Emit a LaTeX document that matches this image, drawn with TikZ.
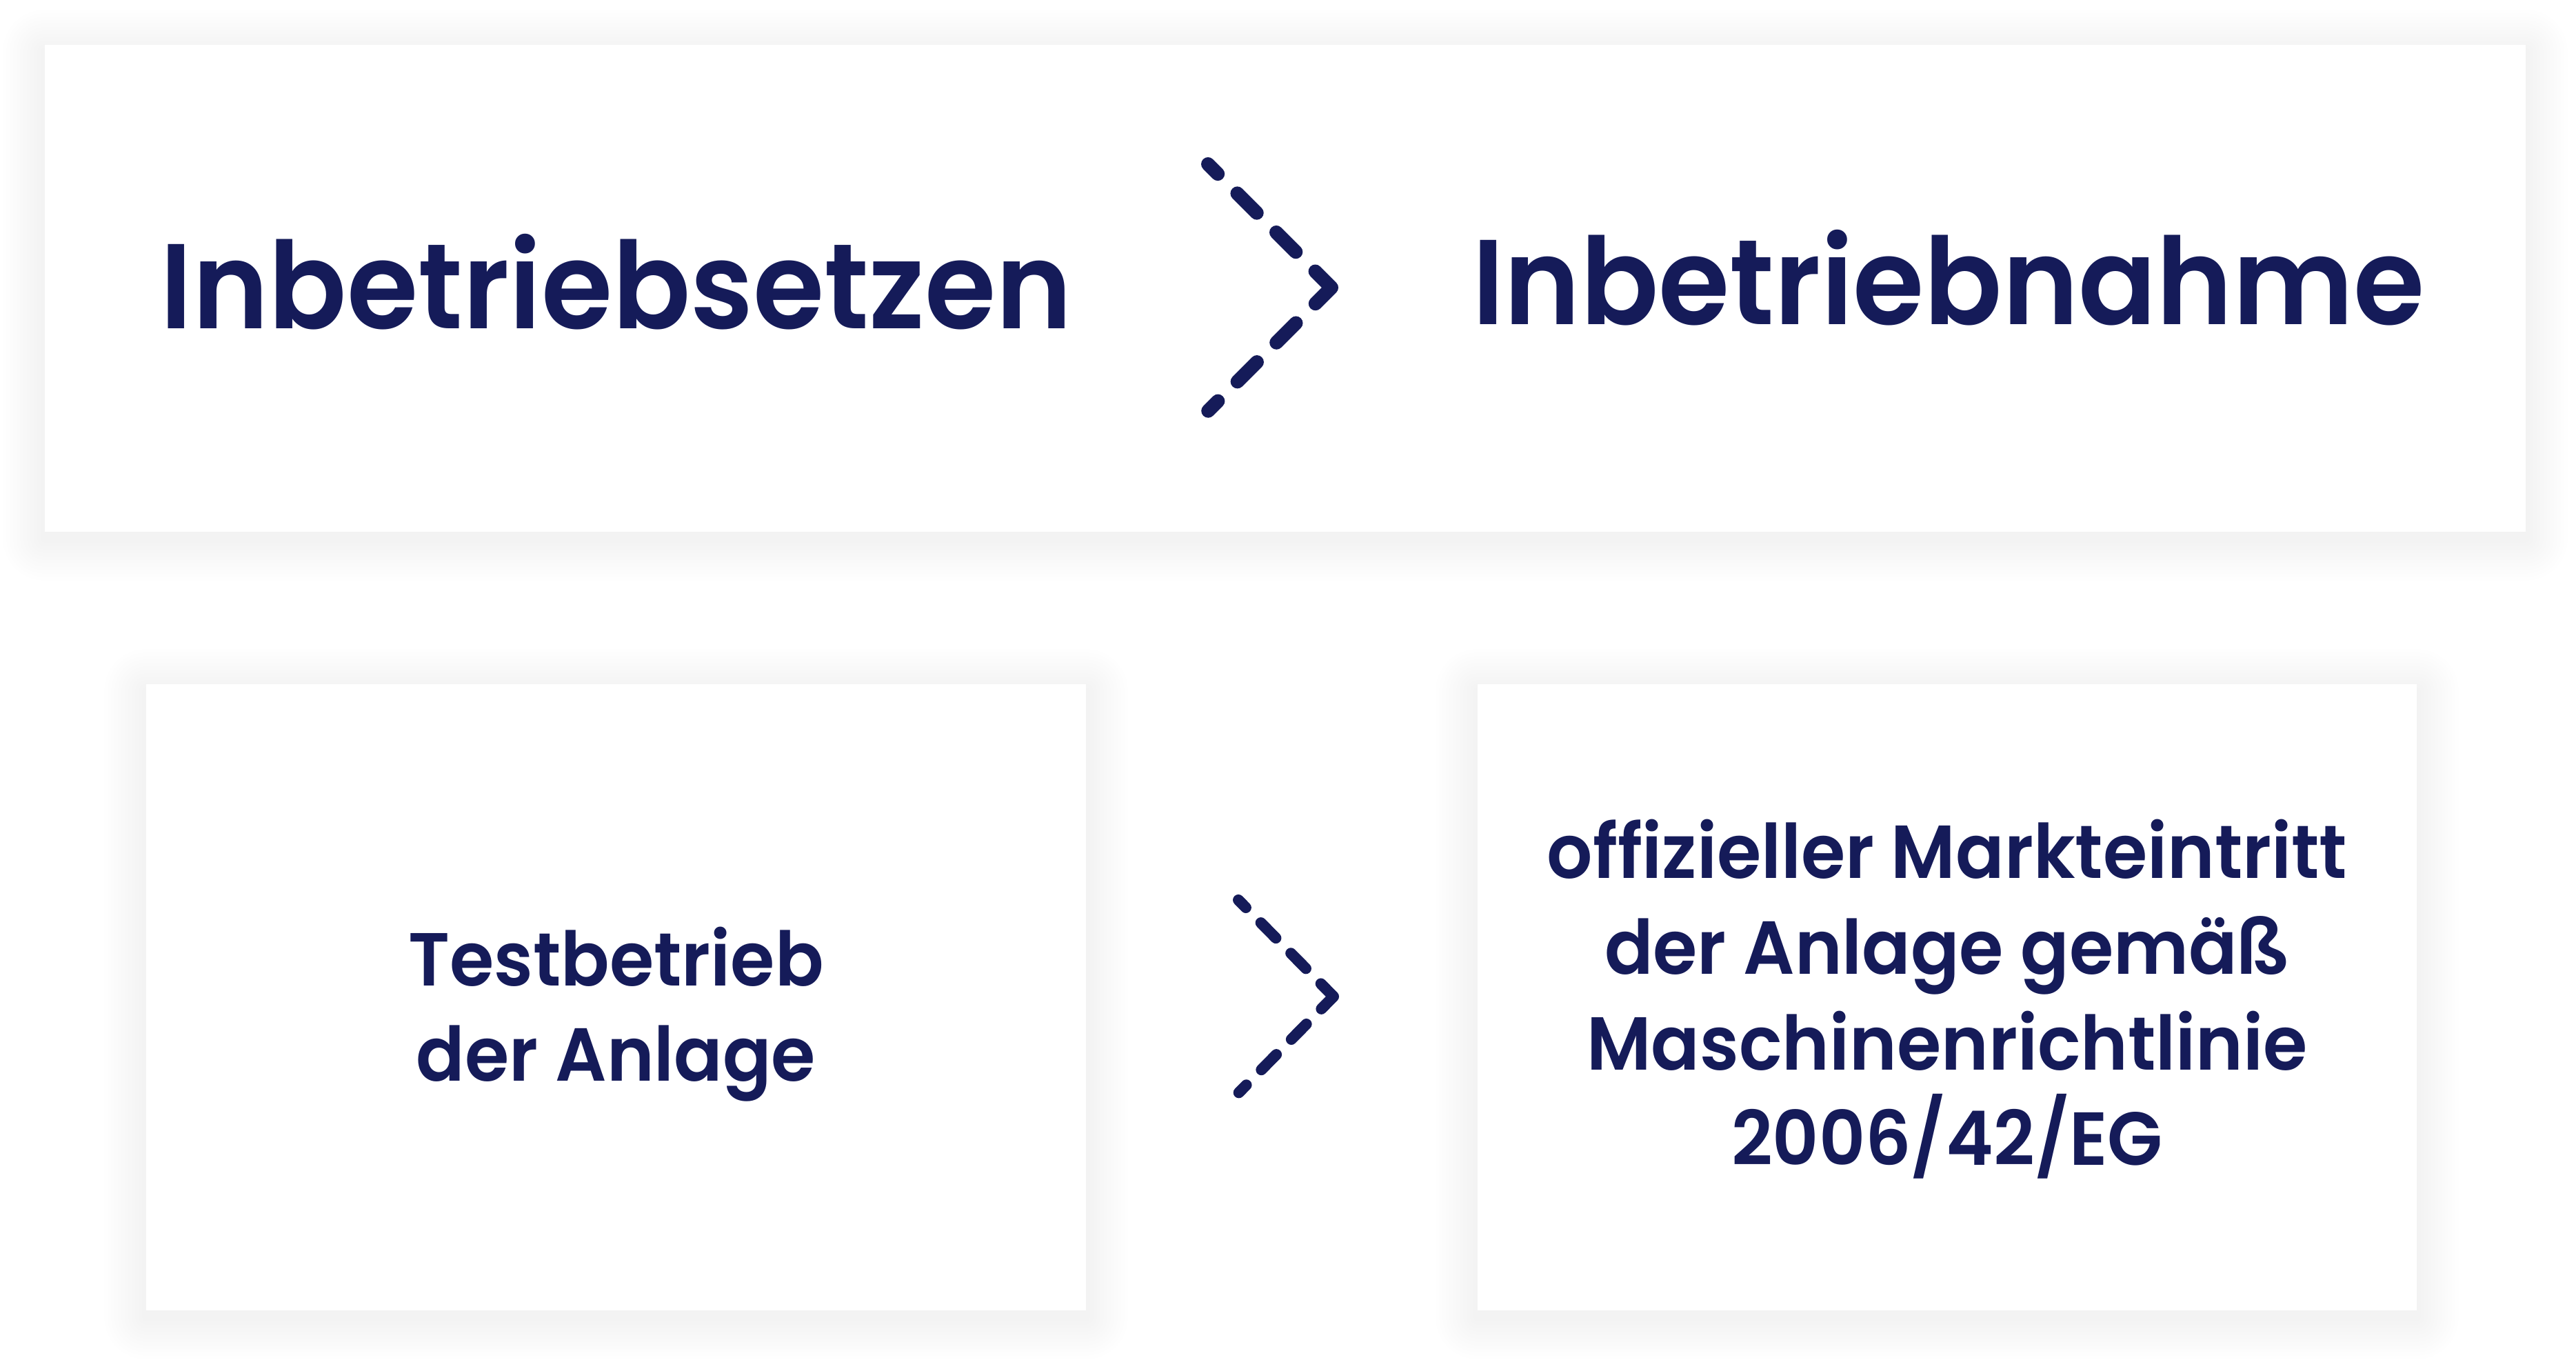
\documentclass[tikz,border=0pt]{standalone}
\usepackage{fontspec}
\usepackage{tikz}
\usetikzlibrary{calc}
\newfontfamily\dmfont{Poppins SemiBold}[FakeStretch=0.955]
\definecolor{navy}{RGB}{21,27,89}
\pgfdeclarelayer{paper}
\pgfdeclarelayer{shade}
\pgfsetlayers{paper,shade,main}

\begin{document}
\begin{tikzpicture}[
	panel/.style={fill=white, inner sep=0pt},
	bigword/.style={text=navy, inner sep=0pt, font=\dmfont\fontsize{49.8pt}{60pt}\selectfont},
	smallword/.style={text=navy, inner sep=0pt, align=center, font=\dmfont\fontsize{31pt}{39.5pt}\selectfont},
	chevron/.style={draw=navy, line cap=round, line join=round}
	]
			%%%%% START %%%%%
			
			\useasboundingbox (0, 0) rectangle (37.36, 19.72);
			\begin{pgfonlayer}{paper}
				\fill[white] (0, 0) rectangle (37.36, 19.72);
			\end{pgfonlayer}
			
			\node[panel, minimum width=35.98cm, minimum height=7.06cm] (topbox) at (18.64, 15.54) {};
			\node[panel, minimum width=13.63cm, minimum height=9.08cm] (testbox) at (8.935, 5.26) {};
			\node[panel, minimum width=13.62cm, minimum height=9.08cm] (marketbox) at (28.24, 5.26) {};
			
			\begin{pgfonlayer}{shade}
				\foreach \b in {topbox, testbox, marketbox}
				\foreach \i in {1,...,12}
				\fill[black, opacity=0.005, rounded corners=\i*0.05cm] ($(\b.south west)+(-\i*0.05, -\i*0.05-0.1)$) rectangle ($(\b.north east)+(\i*0.05, \i*0.05-0.1)$);
			\end{pgfonlayer}
			
			\node[bigword, anchor=base] (setzen) at (8.94, 14.95) {Inbetriebsetzen};
			\node[bigword, anchor=base] (nahme) at (28.26, 15.01) {Inbetriebnahme};
			
			\node[smallword, anchor=base] (test) at (8.935, 4.04) {Testbetrieb\\der Anlage};
			\node[smallword, anchor=base] (market) at (28.24, 2.82) {offizieller Markteintritt\\der Anlage gemäß\\Maschinenrichtlinie\\2006/42/EG};
			
			\coordinate (upA) at (17.52, 17.34);
			\coordinate (upTip) at (19.31, 15.55);
			\coordinate (upB) at (17.52, 13.76);
			\draw[chevron, line width=0.2cm, dash pattern=on 0.2cm off 0.4cm on 0.4cm off 0.4cm on 0.4cm off 0.4cm on 0.66cm off 0.4cm on 0.4cm off 0.4cm on 0.4cm off 0.4cm on 0.2cm off 1cm] (upA) -- (upTip) -- (upB);
			
			\coordinate (lowA) at (17.96, 6.67);
			\coordinate (lowTip) at (19.34, 5.27);
			\coordinate (lowB) at (17.96, 3.87);
			\draw[chevron, line width=0.16cm, dash pattern=on 0.155cm off 0.31cm on 0.31cm off 0.31cm on 0.31cm off 0.31cm on 0.512cm off 0.31cm on 0.31cm off 0.31cm on 0.31cm off 0.31cm on 0.155cm off 1cm] (lowA) -- (lowTip) -- (lowB);
			
			%%%%% END %%%%%
\end{tikzpicture}
\end{document}
